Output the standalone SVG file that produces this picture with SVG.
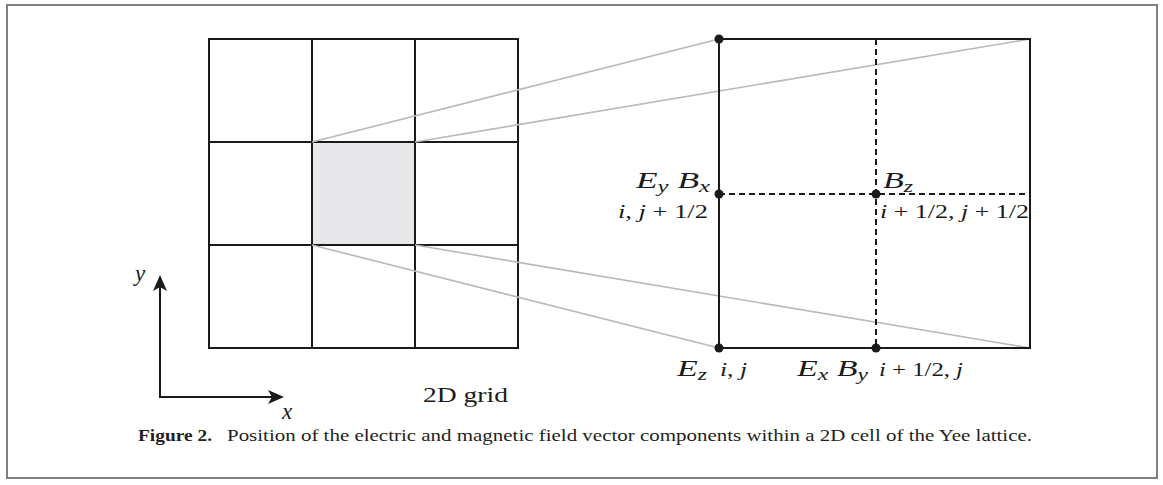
<svg xmlns="http://www.w3.org/2000/svg" width="1163" height="485" viewBox="0 0 1163 485">
<style>
.blk{stroke:#1a1a1a;stroke-width:2;fill:none;stroke-linecap:square}
.dash{stroke:#1a1a1a;stroke-width:2;fill:none;stroke-dasharray:6 4}
.gry{stroke:#b9b9b9;stroke-width:1.6;fill:none}
.dot{fill:#1a1a1a}
.m{font-family:"Liberation Serif",serif;font-style:italic;fill:#1a1a1a}
.n{font-style:normal}
.r{font-family:"Liberation Serif",serif;fill:#1a1a1a}
.cap{font-family:"Liberation Serif",serif;fill:#231f20;font-size:16.5px}
</style>
<defs>
<path id="ah" d="M0,0 L-16,-7 L-12,0 L-16,7 Z" fill="#1a1a1a"/>
</defs>
<rect x="7" y="5" width="1150" height="473" fill="#fff" stroke="#808080" stroke-width="2"/>
<g id="grid2d">
<rect x="312" y="142" width="103" height="103" fill="#e8e8ea"/>
<rect class="blk" x="209" y="39" width="309" height="309"/>
<path class="blk" d="M312,39V348M415,39V348M209,142H518M209,245H518"/>
</g>
<g id="connectors">
<path class="gry" d="M312,142L719,39M415,142L1030,39M312,245L719,348M415,245L1030,348"/>
<path class="blk" d="M160,397V285M160,397H273"/>
<use href="#ah" transform="translate(160,275) rotate(-90)"/>
<use href="#ah" transform="translate(284,397)"/>
</g>
<g id="cell">
<path class="dash" d="M876,39V348M719,194H1030"/>
<rect class="blk" x="719" y="39" width="311" height="309"/>
<circle class="dot" cx="719" cy="39" r="4.5"/>
<circle class="dot" cx="719" cy="194" r="4.5"/>
<circle class="dot" cx="876" cy="194" r="4.5"/>
<circle class="dot" cx="719" cy="348" r="4.5"/>
<circle class="dot" cx="876" cy="348" r="4.5"/>
</g>
<g id="labels">
<text class="m" x="710" y="188" font-size="23" text-anchor="end" textLength="74" lengthAdjust="spacingAndGlyphs">E<tspan font-size="16" dy="4">y</tspan><tspan dy="-4"> B</tspan><tspan font-size="16" dy="4">x</tspan></text>
<text class="m" x="708" y="218" font-size="19" text-anchor="end" textLength="90" lengthAdjust="spacingAndGlyphs">i<tspan class="n">, </tspan>j<tspan class="n"> + 1/2</tspan></text>
<text class="m" x="883" y="188" font-size="23" textLength="30" lengthAdjust="spacingAndGlyphs">B<tspan font-size="16" dy="4">z</tspan></text>
<text class="m" x="880" y="218" font-size="19" textLength="149" lengthAdjust="spacingAndGlyphs">i<tspan class="n"> + 1/2, </tspan>j<tspan class="n"> + 1/2</tspan></text>
<text class="m" x="677" y="376" font-size="23" textLength="30" lengthAdjust="spacingAndGlyphs">E<tspan font-size="16" dy="4">z</tspan></text>
<text class="m" x="720" y="376" font-size="19" textLength="27" lengthAdjust="spacingAndGlyphs">i<tspan class="n">, </tspan>j</text>
<text class="m" x="797" y="376" font-size="23" textLength="71" lengthAdjust="spacingAndGlyphs">E<tspan font-size="16" dy="4">x</tspan><tspan dy="-4"> B</tspan><tspan font-size="16" dy="4">y</tspan></text>
<text class="m" x="879" y="376" font-size="19" textLength="84" lengthAdjust="spacingAndGlyphs">i<tspan class="n"> + 1/2, </tspan>j</text>
<text class="m" x="135" y="281" font-size="23">y</text>
<text class="m" x="282" y="419" font-size="23">x</text>
<text class="r" x="423" y="402" font-size="22" textLength="85" lengthAdjust="spacingAndGlyphs">2D grid</text>
</g>
<g id="caption">
<text class="cap" x="138" y="441" font-weight="bold" textLength="74" lengthAdjust="spacingAndGlyphs">Figure 2.</text>
<text class="cap" x="227" y="441" textLength="805" lengthAdjust="spacingAndGlyphs">Position of the electric and magnetic field vector components within a 2D cell of the Yee lattice.</text>
</g>
</svg>
